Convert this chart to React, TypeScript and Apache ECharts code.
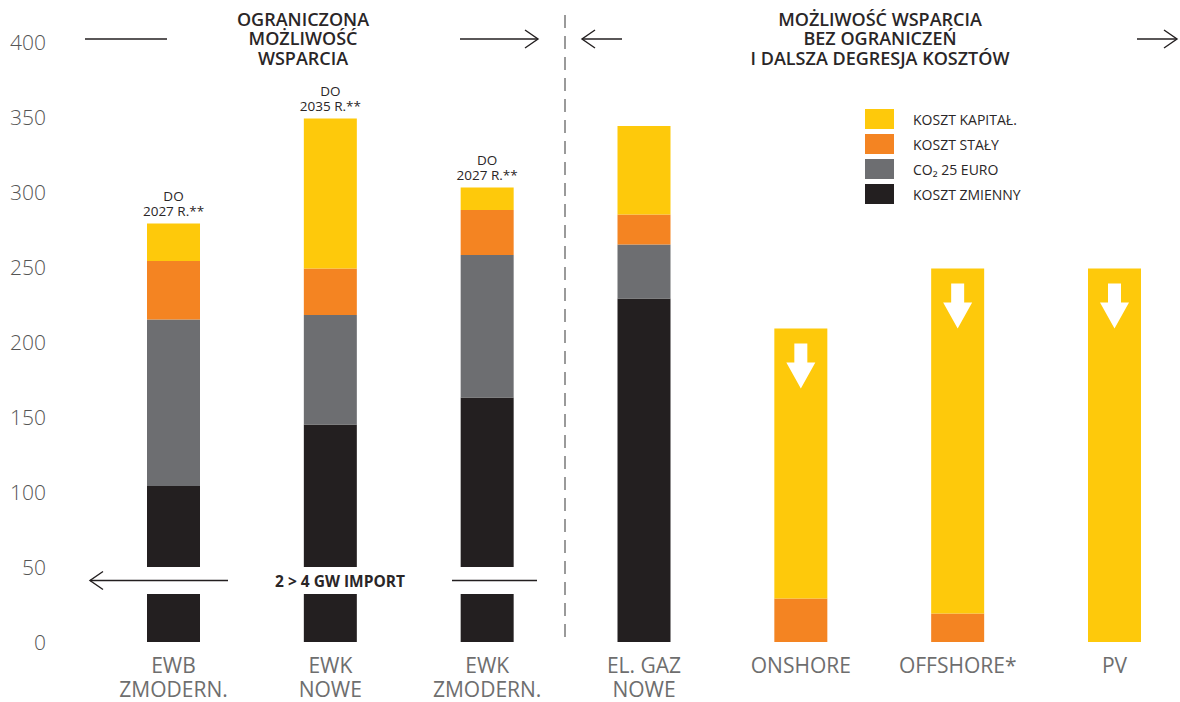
import React, { useEffect, useRef } from "react";
import * as echarts from "echarts";

const categories = [
  "EWB\nZMODERN.",
  "EWK\nNOWE",
  "EWK\nZMODERN.",
  "EL. GAZ\nNOWE",
  "ONSHORE",
  "OFFSHORE*",
  "PV",
];
const kosztZmienny = [104, 145, 163, 229, 0, 0, 0];
const co2 = [111, 73, 95, 36, 0, 0, 0];
const kosztStaly = [39, 31, 30, 20, 29, 19, 0];
const kosztKapital = [25, 100, 15, 59, 180, 230, 249];
const topNotes = ["DO\n2027 R.**", "DO\n2035 R.**", "DO\n2027 R.**", "", "", "", ""];
const arrowMarks: [number, number][] = [
  [4, 184],
  [5, 224],
  [6, 224],
];
const yTicks = { min: 0, max: 400, interval: 50 };
const importGap = [32, 50];

const seriesNames = ["KOSZT ZMIENNY", "CO\u2082 25 EURO", "KOSZT STAŁY", "KOSZT KAPITAŁ."];
const colors = ["#231f20", "#6d6e71", "#f48422", "#fec90b"];

const ARROW = "path://M8,0L21,0L21,19L29,19L14.5,45L0,19L8,19Z";

export default function App() {
  const ref = useRef<HTMLDivElement>(null);
  useEffect(() => {
    if (!ref.current) return;
    const chart = echarts.init(ref.current, undefined, { renderer: "svg" });
    const dark = "#231f20";
    const headFont = { fontFamily: "Open Sans", fontWeight: 600 as any, fontSize: 18, fill: "#2a2627" };
    const lineStyle = { stroke: dark, lineWidth: 1.4 };
    const gridLeft = 173.5;
    const gridWidth = 941;
    const gridTop = 42;
    const gridHeight = 600;
    const step = gridWidth / 6;
    const yPix = (v: number) => gridTop + gridHeight * (1 - v / yTicks.max);

    const mkArrowHead = (x: number, y: number, dir: 1 | -1) => ({
      type: "polyline",
      z: 100,
      shape: { points: [[x - dir * 13, y - 9], [x, y], [x - dir * 13, y + 9]] },
      style: { ...lineStyle, fill: null },
    });
    const mkLine = (x1: number, x2: number, y: number) => ({
      type: "line",
      z: 100,
      shape: { x1, y1: y, x2, y2: y },
      style: lineStyle,
    });

    const datas = [kosztZmienny, co2, kosztStaly, kosztKapital];
    const series: any[] = datas.map((d, i) => ({
      name: seriesNames[i],
      type: "bar",
      stack: "total",
      barWidth: 53,
      itemStyle: { color: colors[i] },
      emphasis: { disabled: true },
      data:
        i === 3
          ? d.map((v, k) => ({
              value: v,
              label: {
                show: topNotes[k] !== "",
                position: "top",
                distance: 5,
                formatter: topNotes[k],
                fontFamily: "Open Sans",
                fontSize: 13.5,
                lineHeight: 15,
                color: "#2a2627",
              },
            }))
          : d,
      markPoint:
        i === 3
          ? {
              symbol: ARROW,
              symbolSize: [29, 45],
              itemStyle: { color: "#ffffff" },
              label: { show: false },
              data: arrowMarks.map(([c, v]) => ({ coord: [categories[c], v] })),
            }
          : undefined,
    }));

    const importY = (yPix(importGap[0]) + yPix(importGap[1])) / 2;

    chart.setOption({
      animation: false,
      grid: { left: gridLeft, top: gridTop, width: gridWidth, height: gridHeight },
      legend: {
        orient: "vertical",
        left: 860,
        top: 104,
        itemWidth: 29,
        itemHeight: 20,
        itemGap: 5,
        icon: "rect",
        selectedMode: false,
        data: [seriesNames[3], seriesNames[2], seriesNames[1], seriesNames[0]],
        textStyle: { fontFamily: "Open Sans", fontSize: 14, color: "#2a2627", padding: [0, 0, 0, 14] },
      },
      xAxis: {
        type: "category",
        data: categories,
        boundaryGap: false,
        axisLine: { show: false },
        axisTick: { show: false },
        axisLabel: {
          margin: 11,
          fontFamily: "Liberation Sans Narrow, Open Sans",
          fontSize: 21,
          lineHeight: 24,
          color: "#6e6e6e",
          interval: 0,
        },
      },
      yAxis: {
        type: "value",
        min: yTicks.min,
        max: yTicks.max,
        interval: yTicks.interval,
        splitLine: { show: false },
        axisLine: { show: false },
        axisTick: { show: false },
        axisLabel: {
          margin: gridLeft - 46,
          fontFamily: "Open Sans",
          fontWeight: 300,
          fontSize: 21,
          color: "#555555",
        },
      },
      series,
      graphic: [
        {
          type: "rect",
          z: 90,
          shape: { x: gridLeft - step / 2 + 30, y: yPix(importGap[1]), width: step * 3 - 60, height: yPix(importGap[0]) - yPix(importGap[1]) },
          style: { fill: "#ffffff" },
        },
        mkLine(90, 228, importY),
        mkArrowHead(90, importY, -1),
        mkLine(452, 537, importY),
        {
          type: "text",
          z: 100,
          x: 340,
          y: importY,
          style: { text: "2 > 4 GW IMPORT", align: "center", verticalAlign: "middle", fontFamily: "Open Sans", fontWeight: 700, fontSize: 15.5, fill: "#2a2627" },
        },
        {
          type: "line",
          z: 100,
          shape: { x1: 565, y1: 15, x2: 565, y2: 642 },
          style: { stroke: "#7a7a7a", lineWidth: 1.5, lineDash: [13, 8] },
        },
        {
          type: "text",
          z: 100,
          x: 303,
          y: 38,
          style: { ...headFont, text: "OGRANICZONA\nMOŻLIWOŚĆ\nWSPARCIA", align: "center", verticalAlign: "middle", lineHeight: 19.5 },
        },
        mkLine(85, 167, 39),
        mkLine(460, 538, 39),
        mkArrowHead(538, 39, 1),
        {
          type: "text",
          z: 100,
          x: 880,
          y: 38,
          style: { ...headFont, text: "MOŻLIWOŚĆ WSPARCIA\nBEZ OGRANICZEŃ\nI DALSZA DEGRESJA KOSZTÓW", align: "center", verticalAlign: "middle", lineHeight: 19.5 },
        },
        mkLine(582, 622, 39),
        mkArrowHead(582, 39, -1),
        mkLine(1137, 1177, 39),
        mkArrowHead(1177, 39, 1),
      ],
    });
    return () => chart.dispose();
  }, []);
  return <div ref={ref} style={{ position: "fixed", left: 0, top: 0, width: 1180, height: 702, background: "#fff" }} />;
}
